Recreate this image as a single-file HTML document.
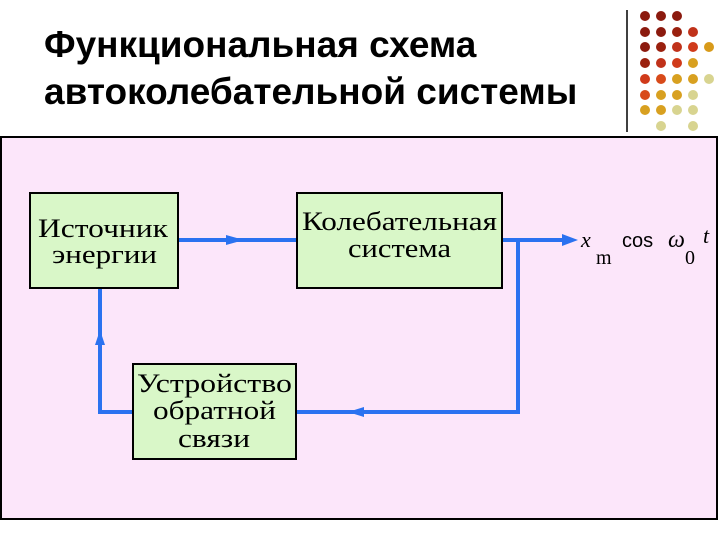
<!DOCTYPE html>
<html><head><meta charset="utf-8"><style>
body{margin:0;width:720px;height:540px;background:#fff;position:relative;overflow:hidden;font-family:"Liberation Sans",sans-serif}
.t{position:absolute;left:44px;top:21px;font-weight:bold;font-size:37px;line-height:47px;color:#000;white-space:nowrap}
</style></head><body>
<div class="t">Функциональная схема<br>автоколебательной системы</div>
<svg width="720" height="540" style="position:absolute;left:0;top:0">
<line x1="627" y1="10" x2="627" y2="132" stroke="#000" stroke-width="1.5"/>
<g>
<circle cx="645" cy="16" r="5" fill="#8b1a0e"/><circle cx="661" cy="16" r="5" fill="#8b1a0e"/><circle cx="677" cy="16" r="5" fill="#8b1a0e"/>
<circle cx="645" cy="32" r="5" fill="#8b1a0e"/><circle cx="661" cy="32" r="5" fill="#8b1a0e"/><circle cx="677" cy="32" r="5" fill="#9a200e"/><circle cx="693" cy="32" r="5" fill="#c0321a"/>
<circle cx="645" cy="47" r="5" fill="#8b1a0e"/><circle cx="661" cy="47" r="5" fill="#9a200e"/><circle cx="677" cy="47" r="5" fill="#c0321a"/><circle cx="693" cy="47" r="5" fill="#d03a1a"/><circle cx="709" cy="47" r="5" fill="#d89a1a"/>
<circle cx="645" cy="63" r="5" fill="#9a200e"/><circle cx="661" cy="63" r="5" fill="#c0321a"/><circle cx="677" cy="63" r="5" fill="#d03a1a"/><circle cx="693" cy="63" r="5" fill="#d8a020"/>
<circle cx="645" cy="79" r="5" fill="#d03a1a"/><circle cx="661" cy="79" r="5" fill="#d84a1a"/><circle cx="677" cy="79" r="5" fill="#d8a020"/><circle cx="693" cy="79" r="5" fill="#d8a020"/><circle cx="709" cy="79" r="5" fill="#d8d490"/>
<circle cx="645" cy="95" r="5" fill="#d84a1a"/><circle cx="661" cy="95" r="5" fill="#d8a020"/><circle cx="677" cy="95" r="5" fill="#d8a020"/><circle cx="693" cy="95" r="5" fill="#d8d490"/>
<circle cx="645" cy="110" r="5" fill="#d8a020"/><circle cx="661" cy="110" r="5" fill="#d8a020"/><circle cx="677" cy="110" r="5" fill="#d8d490"/><circle cx="693" cy="110" r="5" fill="#d8d490"/>
<circle cx="661" cy="126" r="5" fill="#d8d490"/><circle cx="693" cy="126" r="5" fill="#d8d490"/>
</g>
<rect x="1" y="137" width="716" height="382" fill="#fce6fa" stroke="#000" stroke-width="2"/>
<g stroke="#2a72f0" stroke-width="4" fill="none">
<line x1="178" y1="240" x2="297" y2="240"/>
<line x1="502" y1="240" x2="570" y2="240"/>
<polyline points="518,240 518,412 296,412"/>
<polyline points="133,412 100,412 100,288"/>
</g>
<g fill="#2a72f0">
<polygon points="226,235 244,240 226,245"/>
<polygon points="562,234 578,240 562,246"/>
<polygon points="364,407 364,417 348,412"/>
<polygon points="95,345 105,345 100,330"/>
</g>
<g stroke="#000" stroke-width="2" fill="#d9f7c8">
<rect x="30" y="193" width="148" height="95"/>
<rect x="297" y="193" width="205" height="95"/>
<rect x="133" y="364" width="163" height="95"/>
</g>
<g font-family="Liberation Serif,serif" font-size="26" fill="#000" lengthAdjust="spacingAndGlyphs">
<text x="38" y="237" textLength="130" lengthAdjust="spacingAndGlyphs">Источник</text>
<text x="52" y="263" textLength="105" lengthAdjust="spacingAndGlyphs">энергии</text>
<text x="302" y="230" textLength="195" lengthAdjust="spacingAndGlyphs">Колебательная</text>
<text x="348" y="257" textLength="103" lengthAdjust="spacingAndGlyphs">система</text>
<text x="137" y="392" textLength="155" lengthAdjust="spacingAndGlyphs">Устройство</text>
<text x="153" y="419" textLength="123" lengthAdjust="spacingAndGlyphs">обратной</text>
<text x="178" y="447" textLength="72" lengthAdjust="spacingAndGlyphs">связи</text>
</g>
<g font-family="Liberation Serif,serif" font-size="22" fill="#000">
<text x="581" y="247" font-style="italic">x</text>
<text x="596" y="264" font-size="20">m</text>
<text x="622" y="247" font-family="Liberation Sans,sans-serif" font-size="20">cos</text>
<text x="668" y="247" font-style="italic" font-size="24">ω</text>
<text x="685" y="264" font-size="20">0</text>
<text x="703" y="243" font-style="italic">t</text>
</g>
</svg>
</body></html>
